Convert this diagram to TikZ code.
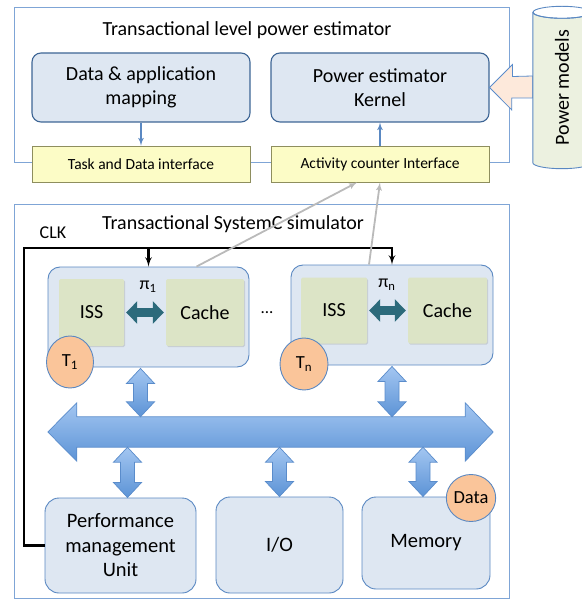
\documentclass[tikz,border=0pt]{standalone}
\usepackage{fontspec}
\setmainfont{Carlito}
\usetikzlibrary{arrows,arrows.meta,calc,shapes.geometric,shadows}

\definecolor{frameblue}{HTML}{7FA5D6}
\definecolor{estborder}{HTML}{3D6595}
\definecolor{boxfill}{HTML}{DEE7F2}
\definecolor{cpuborder}{HTML}{5A88C2}
\definecolor{iffill}{HTML}{FCFCC6}
\definecolor{ifborder}{HTML}{8E8E5E}
\definecolor{corefill}{HTML}{DCE4C6}
\definecolor{tagfill}{HTML}{FAC59A}
\definecolor{tealarrow}{HTML}{2C6A7B}
\definecolor{bustop}{HTML}{A3C6F1}
\definecolor{busbottom}{HTML}{5C93D6}
\definecolor{busborder}{HTML}{5A8CCB}
\definecolor{cylfill}{HTML}{ECF1E0}
\definecolor{pmfill}{HTML}{FDE9DB}

\tikzstyle{frame} = [draw=frameblue, line width=0.9pt]
\tikzstyle{estbox} = [draw=estborder, fill=boxfill, rounded corners=9pt,
line width=1.1pt, align=center, font=\fontsize{20}{24}\selectfont]
\tikzstyle{ifbox} = [draw=ifborder, fill=iffill, line width=0.9pt,
font=\fontsize{15.5}{18}\selectfont, drop shadow={opacity=0.3,shadow xshift=1pt,shadow yshift=-1.2pt}]
\tikzstyle{cpu} = [draw=cpuborder, fill=boxfill, rounded corners=12pt, line width=0.9pt]
\tikzstyle{core} = [fill=corefill, rounded corners=1.5pt, font=\fontsize{20}{24}\selectfont,
drop shadow={opacity=0.25,shadow xshift=1pt,shadow yshift=-1.2pt}]
\tikzstyle{tag} = [ellipse, draw=cpuborder, fill=tagfill, line width=0.9pt, inner sep=0pt,
font=\fontsize{18.5}{22}\selectfont]
\tikzstyle{unitbox} = [draw=cpuborder, fill=boxfill, rounded corners=14pt, line width=0.9pt,
align=center, font=\fontsize{20.5}{24.5}\selectfont]
\tikzstyle{buslink} = [draw=busborder, line width=0.7pt, top color=bustop, bottom color=busbottom]

\newcommand{\buslink}[2]{%
\draw[buslink] let \p1=(#1), \p2=(#2) in
(\p1) -- ++(14,15) -- ++(-7,0) -- ($(\p2)+(7,-15)$) -- ++(7,0) -- (\p2)
-- ++(-14,-15) -- ++(7,0) -- ($(\p1)+(-7,15)$) -- ++(-7,0) -- cycle;}

\begin{document}
\begin{tikzpicture}[x=1pt, y=-1pt, >=latex', font=\fontsize{20}{24}\selectfont]
\useasboundingbox (0,0) rectangle (581,601);

% power estimator part
\node [frame, minimum width=495pt, minimum height=155pt] (est) at (261.5,84.5) {};
\node at (247,30) {Transactional level power estimator};

\node [estbox, minimum width=218pt, minimum height=69pt] (dam) at (141,87.5) {Data \& application\\mapping};
\node [estbox, minimum width=218pt, minimum height=69pt] (ker) at (380,87.5) {Power estimator\\Kernel};
\node [ifbox, minimum width=218pt, minimum height=36pt] (tdi) at (141,164) {Task and Data interface};
\node [ifbox, minimum width=218pt, minimum height=36pt] (aci) at (380,164) {Activity counter Interface};

\draw [->, draw=cpuborder, line width=1.6pt] (dam) -- (tdi);
\draw [->, draw=cpuborder, line width=1.6pt] (aci) -- (ker);

% power models store
\node [minimum width=58pt, minimum height=150pt, inner sep=0pt] (pm) at (562,87.5) {};
\draw [draw=busborder, fill=pmfill, line width=0.8pt] (ker.east) -- ++(23,-23) -- ++(0,12)
-- (pm.west |- 0,76) -- ++(0,22) -- ++(-21,0) -- ++(0,12) -- cycle;
\draw [draw=cpuborder, fill=cylfill, line width=0.9pt] (pm.north west) -- (pm.south west)
arc [start angle=180, end angle=0, x radius=29, y radius=6] -- (pm.north east)
arc [start angle=0, end angle=180, x radius=29, y radius=6] -- cycle;
\draw [draw=cpuborder, line width=0.9pt] (pm.north) ellipse [x radius=29, y radius=6];
\node [rotate=90] at (pm.center) {Power models};

% simulator part
\node [frame, minimum width=495pt, minimum height=394pt] (sim) at (261.5,401) {};
\node at (233,224) {Transactional SystemC simulator};
\node [font=\fontsize{18}{22}\selectfont] (clk) at (53,233) {CLK};

\node [cpu, minimum width=201pt, minimum height=100pt] (p1) at (148.5,317) {};
\node [cpu, minimum width=202pt, minimum height=100pt] (pn) at (392,315) {};
\node [core, minimum width=65pt, minimum height=67pt] (iss1) at (91.5,312.5) {ISS};
\node [core, minimum width=78pt, minimum height=67pt] (cache1) at (205,312.5) {Cache};
\node [core, minimum width=66pt, minimum height=66pt] (issn) at (334,310.5) {ISS};
\node [core, minimum width=79pt, minimum height=66pt] (cachen) at (447.5,310.5) {Cache};
\node [font=\fontsize{18}{22}\selectfont] (pi1) at (148,287) {π\textsubscript{1}};
\node [font=\fontsize{18}{22}\selectfont] (pin) at (387,285) {π\textsubscript{n}};
\node [font=\fontsize{17}{20}\selectfont] (dots) at (267,313) {...};
\node [tag, minimum width=47pt, minimum height=52pt] (t1) at (70,362) {T\textsubscript{1}};
\node [tag, minimum width=48pt, minimum height=52pt] (tn) at (304,364) {T\textsubscript{n}};

\draw [draw=tealarrow, line width=9pt, shorten <=2pt, shorten >=2pt,
{Triangle[width=22pt,length=11pt]}-{Triangle[width=22pt,length=11pt]}] (iss1) -- (cache1);
\draw [draw=tealarrow, line width=9pt, shorten <=2pt, shorten >=2pt,
{Triangle[width=22pt,length=11pt]}-{Triangle[width=22pt,length=11pt]}] (issn) -- (cachen);

\node [unitbox, minimum width=151pt, minimum height=95pt] (pmu) at (120.5,545.5) {Performance\\management\\Unit};
\node [unitbox, minimum width=127pt, minimum height=96pt] (io) at (279.5,545) {I/O};
\node [unitbox, minimum width=128pt, minimum height=92pt] (mem) at (426,543) {Memory};
\node [tag, minimum width=45pt, minimum height=47pt] (data) at (471,498) {Data};

% bus
\node [minimum width=388pt, minimum height=30pt, inner sep=0pt] (bus) at (271,432) {};
\draw [buslink] (bus.north west) -- (bus.north east) -- ++(0,-14) -- ($(bus.east)+(28,0)$)
-- ($(bus.south east)+(0,14)$) -- (bus.south east) -- (bus.south west) -- ++(0,14)
-- ($(bus.west)+(-29,0)$) -- ($(bus.north west)+(0,-14)$) -- cycle;

\coordinate (l1) at ($(p1.south)+(-8,1)$);
\coordinate (l2) at ($(pn.south)+(0,1)$);
\coordinate (l3) at ($(pmu.north)+(7,0)$);
\coordinate (l4) at ($(io.north)+(0,0)$);
\coordinate (l5) at ($(mem.north)+(-3,0)$);
\buslink{l1}{l1 |- bus.north}
\buslink{l2}{l2 |- bus.north}
\buslink{bus.south -| l3}{l3}
\buslink{bus.south -| l4}{l4}
\buslink{bus.south -| l5}{l5}

% clock and activity
\coordinate (clkc) at (24,248);
\draw [->, line width=2.2pt] (pmu.west) -| (clkc) -| (pn.north);
\draw [->, line width=2.2pt] (p1.north |- clkc) -- (p1.north);

\draw [->, draw=black!27, line width=1.8pt] ($(p1.north)+(48,0)$) -- ($(aci.south)+(-23,0)$);
\draw [->, draw=black!27, line width=1.8pt] ($(pn.north)+(-23,0)$) -- (aci.south);
\end{tikzpicture}
\end{document}
